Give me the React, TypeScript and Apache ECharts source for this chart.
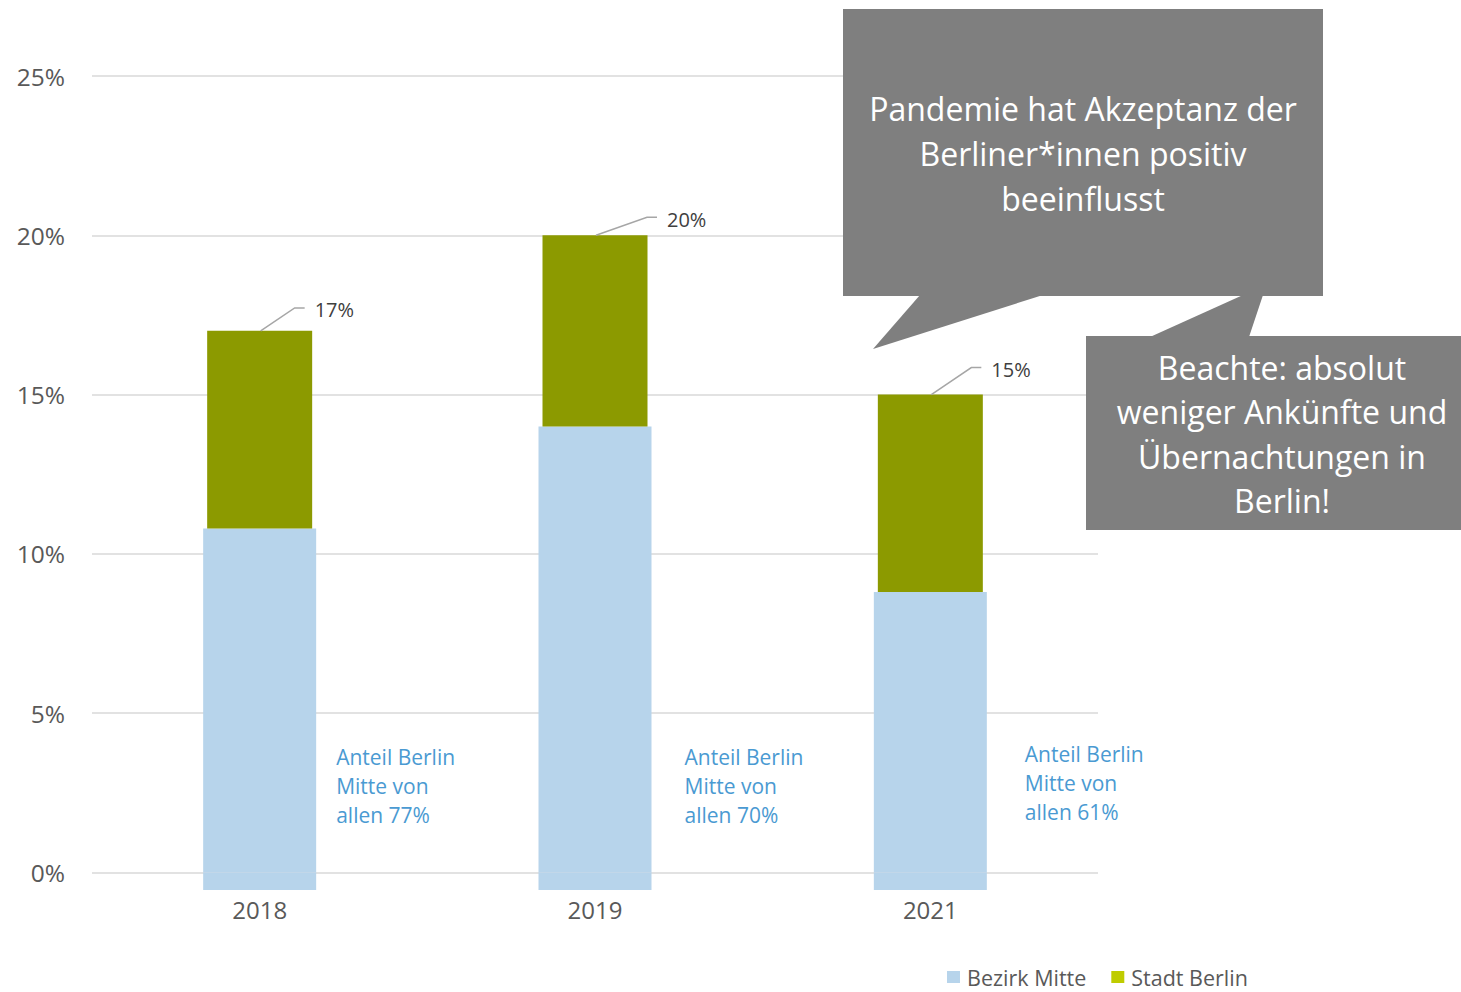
import React, { useEffect, useRef } from 'react';
import * as echarts from 'echarts';

const years = ['2018', '2019', '2021'];
const bezirkMitte = [10.8, 14.0, 8.8];
const stadtBerlinTotal = [17, 20, 15];
const belowAxis = [-0.55, -0.55, -0.55];
const shareOfAll = ['77%', '70%', '61%'];
const yTicks = [0, 5, 10, 15, 20, 25];
const calloutTop = ['Pandemie hat Akzeptanz der', 'Berliner*innen positiv', 'beeinflusst'];
const calloutBottom = ['Beachte: absolut', 'weniger Ankünfte und', 'Übernachtungen in', 'Berlin!'];

// layout constants (pixel offsets of annotation labels relative to their bars)
const totalLabelOffsets = [[55, -21], [72, -16], [61, -25]];
const shareLabelOffsets = [[20, -104], [33, -104], [38, -107]];

const stadtBerlinPart = stadtBerlinTotal.map((t, i) => +(t - bezirkMitte[i]).toFixed(2));

const FONT = '"Open Sans", "Noto Sans", sans-serif';
const BLUE = '#B7D4EB';
const OLIVE = '#8C9A00';
const GRAY = '#7F7F7F';

export default function App() {
  const ref = useRef<HTMLDivElement>(null);
  useEffect(() => {
    if (!ref.current) return;
    const chart = echarts.init(ref.current, undefined, { renderer: 'svg' });
    const option: any = {
      animation: false,
      grid: { left: 92, right: 363, top: 76, bottom: 100.4 },
      legend: {
        left: 947,
        top: 966,
        padding: 0,
        itemWidth: 13,
        itemHeight: 12,
        itemGap: 25,
        icon: 'rect',
        selectedMode: false,
        textStyle: {
          color: '#595959',
          fontSize: 21.5,
          lineHeight: 20,
          fontFamily: FONT,
          padding: [0, 0, 0, 2],
        },
        data: [
          { name: 'Bezirk Mitte', itemStyle: { color: BLUE } },
          { name: 'Stadt Berlin', itemStyle: { color: '#BFCC00' } },
        ],
      },
      xAxis: [
        {
          type: 'category',
          data: years,
          axisLine: { show: false },
          axisTick: { show: false },
          axisLabel: { color: '#595959', fontSize: 24, fontFamily: FONT, margin: 6 },
        },
        {
          type: 'category',
          data: years,
          show: false,
        },
      ],
      yAxis: {
        type: 'value',
        min: -0.6,
        max: 25,
        splitLine: { show: false },
        axisLine: { show: false },
        axisTick: { show: false },
        axisLabel: {
          customValues: yTicks,
          formatter: (v: number) => `${v}%`,
          color: '#595959',
          fontSize: 24.5,
          fontFamily: FONT,
          margin: 27,
        },
      },
      series: [
        {
          name: 'Bezirk Mitte',
          type: 'bar',
          xAxisIndex: 0,
          stack: 'mitte',
          barWidth: 113,
          data: bezirkMitte,
          itemStyle: { color: BLUE },
          silent: true,
          z: 3,
        },
        {
          name: 'Bezirk Mitte',
          type: 'bar',
          xAxisIndex: 0,
          stack: 'mitte',
          barWidth: 113,
          data: belowAxis,
          itemStyle: { color: BLUE },
          silent: true,
          z: 3,
          label: {
            show: true,
            formatter: (p: any) => `Anteil Berlin\nMitte von\nallen ${shareOfAll[p.dataIndex]}`,
            color: '#4A9AD2',
            fontSize: 21,
            lineHeight: 29,
            fontFamily: FONT,
          },
          labelLayout: (p: any) => {
            const r = p.rect;
            const right = Math.max(r.x, r.x + r.width);
            const bottom = Math.max(r.y, r.y + r.height);
            const o = shareLabelOffsets[p.dataIndex];
            return { x: right + o[0], y: bottom + o[1], align: 'left', verticalAlign: 'middle' };
          },
        },
        {
          name: '_base',
          type: 'bar',
          xAxisIndex: 1,
          stack: 'berlin',
          barWidth: 105,
          data: bezirkMitte,
          itemStyle: { color: 'rgba(0,0,0,0)' },
          silent: true,
          z: 2,
          markLine: {
            silent: true,
            symbol: ['none', 'none'],
            z: 1,
            label: { show: false },
            lineStyle: { color: '#D9D9D9', width: 1.6, type: 'solid' },
            data: yTicks.map((v) => ({ yAxis: v })),
          },
        },
        {
          name: 'Stadt Berlin',
          type: 'bar',
          xAxisIndex: 1,
          stack: 'berlin',
          barWidth: 105,
          data: stadtBerlinPart,
          itemStyle: { color: OLIVE },
          silent: true,
          z: 4,
          label: {
            show: true,
            formatter: (p: any) => `${stadtBerlinTotal[p.dataIndex]}%`,
            color: '#404040',
            fontSize: 20,
            fontFamily: FONT,
          },
          labelLayout: (p: any) => {
            const r = p.rect;
            const top = Math.min(r.y, r.y + r.height);
            const cx = r.x + r.width / 2;
            const o = totalLabelOffsets[p.dataIndex];
            return { x: cx + o[0], y: top + o[1], align: 'left', verticalAlign: 'middle' };
          },
        },
        {
          name: '_leader',
          type: 'custom',
          xAxisIndex: 1,
          silent: true,
          z: 5,
          data: stadtBerlinTotal.map((v, i) => [i, v]),
          renderItem: (params: any, api: any) => {
            const i = params.dataIndex;
            const p = api.coord([api.value(0), api.value(1)]);
            const o = totalLabelOffsets[i];
            const ly = p[1] + o[1] - 2;
            return {
              type: 'polyline',
              shape: {
                points: [
                  [p[0] + 1, p[1]],
                  [p[0] + o[0] - 20, ly],
                  [p[0] + o[0] - 10, ly],
                ],
              },
              style: { stroke: '#A6A6A6', lineWidth: 1.5, fill: null },
            };
          },
        },
      ],
      graphic: [
        { type: 'rect', z: 100, shape: { x: 843, y: 9, width: 480, height: 287 }, style: { fill: GRAY } },
        { type: 'polygon', z: 100, shape: { points: [[920, 295], [873, 349], [1043, 295]] }, style: { fill: GRAY } },
        { type: 'rect', z: 100, shape: { x: 1086, y: 336, width: 375, height: 194 }, style: { fill: GRAY } },
        { type: 'polygon', z: 100, shape: { points: [[1150, 337], [1243, 295], [1263, 295], [1249, 337]] }, style: { fill: GRAY } },
        {
          type: 'text',
          z: 101,
          style: {
            text: calloutTop.join('\n'),
            x: 1083,
            y: 153,
            align: 'center',
            verticalAlign: 'middle',
            fill: '#FFFFFF',
            fontSize: 32,
            lineHeight: 45,
            fontFamily: FONT,
          },
        },
        {
          type: 'text',
          z: 101,
          style: {
            text: calloutBottom.join('\n'),
            x: 1282,
            y: 434,
            align: 'center',
            verticalAlign: 'middle',
            fill: '#FFFFFF',
            fontSize: 32,
            lineHeight: 44.5,
            fontFamily: FONT,
          },
        },
      ],
    };
    chart.setOption(option);
    return () => chart.dispose();
  }, []);
  return (
    <div
      ref={ref}
      style={{ position: 'fixed', left: 0, top: 0, width: 1461, height: 992, background: '#fff' }}
    />
  );
}
